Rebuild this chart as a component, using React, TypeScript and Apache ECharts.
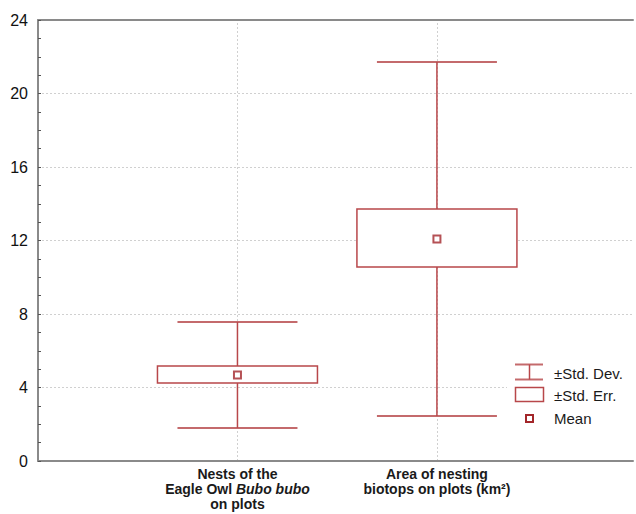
import React, { useEffect, useRef } from "react";
import * as echarts from "echarts";

const categories = ["Nests of the Eagle Owl Bubo bubo on plots", "Area of nesting biotops on plots (km²)"];
const positions = [1, 2];
const means = [4.68, 12.08];
const stdErrLow = [4.24, 10.56];
const stdErrHigh = [5.17, 13.71];
const stdDevLow = [1.8, 2.45];
const stdDevHigh = [7.56, 21.71];
const yTicks = [0, 4, 8, 12, 16, 20, 24];

const LINE = "#b8474a";
const MEAN = "#a3262a";
const FONT = "Liberation Sans, Arial, sans-serif";
const X_MAX = 2.983;

export default function App() {
  const ref = useRef<HTMLDivElement>(null);
  useEffect(() => {
    if (!ref.current) return;
    const chart = echarts.init(ref.current, undefined, { renderer: "svg" });
    const boxData = positions.map((p, i) => [p, means[i], stdErrLow[i], stdErrHigh[i], stdDevLow[i], stdDevHigh[i]]);
    const meanData = positions.map((p, i) => [p, means[i]]);
    const xLabel = (v: number) => {
      if (Math.abs(v - 1) < 1e-6) return "{b|Nests of the}\n{b|Eagle Owl }{i|Bubo bubo}\n{b|on plots}";
      if (Math.abs(v - 2) < 1e-6) return "{b|Area of nesting}\n{b|biotops on plots (km²)}";
      return "";
    };
    chart.setOption({
      animation: false,
      backgroundColor: "#fff",
      grid: { left: 38, right: 0, top: 20, bottom: 53, containLabel: false },
      xAxis: [
        {
          type: "value",
          min: 0,
          max: X_MAX,
          interval: 1,
          position: "bottom",
          axisLine: { show: true, lineStyle: { color: "#8a8a8a", width: 2 } },
          axisTick: { show: false },
          splitLine: { show: false },
          axisLabel: {
            show: true,
            margin: 5,
            formatter: xLabel,
            verticalAlign: "top",
            lineHeight: 15,
            rich: {
              b: { fontFamily: FONT, fontSize: 14, fontWeight: "bold", color: "#1a1a1a", lineHeight: 15 },
              i: { fontFamily: FONT, fontSize: 14, fontWeight: "bold", fontStyle: "italic", color: "#1a1a1a", lineHeight: 15 },
            },
          },
        },
        {
          type: "value",
          min: 0,
          max: X_MAX,
          position: "top",
          axisLine: { show: true, onZero: false, lineStyle: { color: "#8a8a8a", width: 2 } },
          axisTick: { show: false },
          axisLabel: { show: false },
          splitLine: { show: false },
        },
      ],
      yAxis: {
        type: "value",
        min: yTicks[0],
        max: yTicks[yTicks.length - 1],
        interval: 4,
        axisLine: { show: true, lineStyle: { color: "#8a8a8a", width: 2 } },
        axisTick: { show: true, inside: true, length: 3, lineStyle: { color: "#555" } },
        minorTick: { show: true, splitNumber: 4, length: 3, lineStyle: { color: "#555" } },
        splitLine: { show: true, lineStyle: { color: "#d0d0d0", type: [2, 2], width: 1 } },
        axisLabel: { fontFamily: FONT, fontSize: 16, color: "#111", margin: 10 },
      },
      series: [
        {
          name: "vgrid",
          type: "scatter",
          data: [],
          z: 1,
          silent: true,
          markLine: {
            z: 0,
            silent: true,
            symbol: "none",
            label: { show: false },
            lineStyle: { color: "#d0d0d0", type: [2, 2], width: 1 },
            data: positions.map((p) => ({ xAxis: p })),
          },
        },
        {
          name: "box",
          type: "custom",
          data: boxData,
          renderItem: (params: any, api: any) => {
            const x = api.value(0);
            const m = api.coord([x, api.value(1)]);
            const seL = api.coord([x, api.value(2)]);
            const seH = api.coord([x, api.value(3)]);
            const sdL = api.coord([x, api.value(4)]);
            const sdH = api.coord([x, api.value(5)]);
            const cx = m[0];
            const bw = 80;
            const cw = 60;
            const ls = { stroke: LINE, lineWidth: 1.5, fill: "none" };
            const cs = { stroke: "#c46a6c", lineWidth: 2, fill: "none" };
            return {
              type: "group",
              children: [
                { type: "line", shape: { x1: cx - cw, y1: sdH[1], x2: cx + cw, y2: sdH[1] }, style: cs },
                { type: "line", shape: { x1: cx - cw, y1: sdL[1], x2: cx + cw, y2: sdL[1] }, style: cs },
                { type: "line", shape: { x1: cx, y1: sdH[1], x2: cx, y2: seH[1] }, style: ls },
                { type: "line", shape: { x1: cx, y1: seL[1], x2: cx, y2: sdL[1] }, style: ls },
                { type: "rect", shape: { x: cx - bw, y: seH[1], width: 2 * bw, height: seL[1] - seH[1] }, style: { stroke: LINE, lineWidth: 1.5, fill: "#fff" } },
              ],
            };
          },
          z: 2,
        },
        {
          name: "Mean",
          type: "scatter",
          data: meanData,
          symbol: "rect",
          symbolSize: 7,
          itemStyle: { color: "#fff", borderColor: MEAN, borderWidth: 2 },
          z: 3,
        },
      ],
      graphic: [
        { type: "rect", shape: { x: 507, y: 357, width: 129, height: 72 }, style: { fill: "#fff" }, z: 10 },
        { type: "line", shape: { x1: 515, y1: 364.5, x2: 543, y2: 364.5 }, style: { stroke: "#c46a6c", lineWidth: 2 }, z: 11 },
        { type: "line", shape: { x1: 515, y1: 379.5, x2: 543, y2: 379.5 }, style: { stroke: "#c46a6c", lineWidth: 2 }, z: 11 },
        { type: "line", shape: { x1: 529.5, y1: 364.5, x2: 529.5, y2: 379.5 }, style: { stroke: LINE, lineWidth: 1.5 }, z: 11 },
        { type: "text", x: 554, y: 373, style: { text: "±Std. Dev.", fontFamily: FONT, fontSize: 15, fill: "#1a1a1a", verticalAlign: "middle" }, z: 11 },
        { type: "rect", shape: { x: 515.5, y: 387.5, width: 28, height: 14 }, style: { stroke: LINE, lineWidth: 1.5, fill: "#fff" }, z: 11 },
        { type: "text", x: 554, y: 395, style: { text: "±Std. Err.", fontFamily: FONT, fontSize: 15, fill: "#1a1a1a", verticalAlign: "middle" }, z: 11 },
        { type: "rect", shape: { x: 526, y: 415, width: 7, height: 7 }, style: { stroke: MEAN, lineWidth: 2, fill: "#fff" }, z: 11 },
        { type: "text", x: 554, y: 418, style: { text: "Mean", fontFamily: FONT, fontSize: 15, fill: "#1a1a1a", verticalAlign: "middle" }, z: 11 },
      ],
    });
    return () => chart.dispose();
  }, []);
  return <div ref={ref} style={{ width: 636, height: 514, position: "absolute", left: 0, top: 0 }} />;
}
